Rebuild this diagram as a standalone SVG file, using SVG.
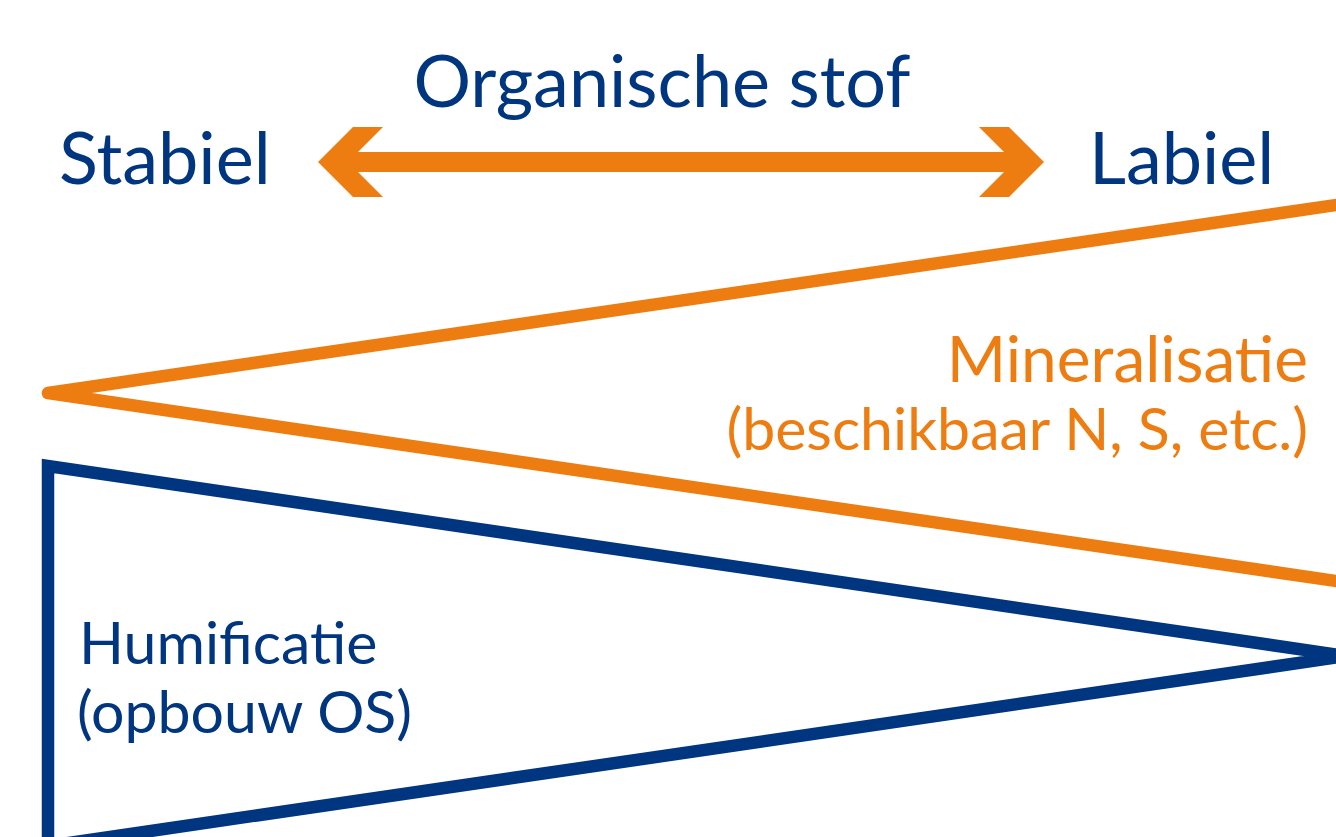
<svg xmlns="http://www.w3.org/2000/svg" width="1336" height="837" viewBox="0 0 1336 837">
<style>
.t{font-family:Lato,"Noto Sans",sans-serif}
.blue{fill:#003580}
.orange{fill:#EE7D11}
</style>
<rect width="1336" height="837" fill="#ffffff"/>
<g id="connectors">
<polygon id="double-arrow" class="orange" points="318,162 353,127 383,127 358,152 1004,152 979,127 1009,127 1044,162 1009,197 979,197 1004,172 358,172 383,197 353,197"/>
<polyline id="mineralisatie-wedge" points="1350,203 48,393 1350,583" fill="none" stroke="#EE7D11" stroke-width="12.5" stroke-linejoin="round" stroke-linecap="round"/>
<polyline id="humificatie-wedge" points="48,850 48,466 1346,656 48,846" fill="none" stroke="#003580" stroke-width="12.5" stroke-linejoin="miter" stroke-miterlimit="20"/>
</g>
<g id="title"><text class="t blue" x="662" y="107" font-size="72" text-anchor="middle">Organische stof</text></g>
<g id="stabiel"><text class="t blue" x="59" y="184" font-size="72">Stabiel</text></g>
<g id="labiel"><text class="t blue" x="1089" y="184" font-size="72">Labiel</text></g>
<g id="mineralisatie">
<text class="t orange" x="1308" y="382" font-size="64" text-anchor="end">Mineralisatie</text>
<text class="t orange" x="1308" y="450" font-size="59" text-anchor="end">(beschikbaar N, S, etc.)</text>
</g>
<g id="humificatie">
<text class="t blue" x="79" y="664" font-size="59">Humificatie</text>
<text class="t blue" x="77" y="733" font-size="59">(opbouw OS)</text>
</g>
</svg>
